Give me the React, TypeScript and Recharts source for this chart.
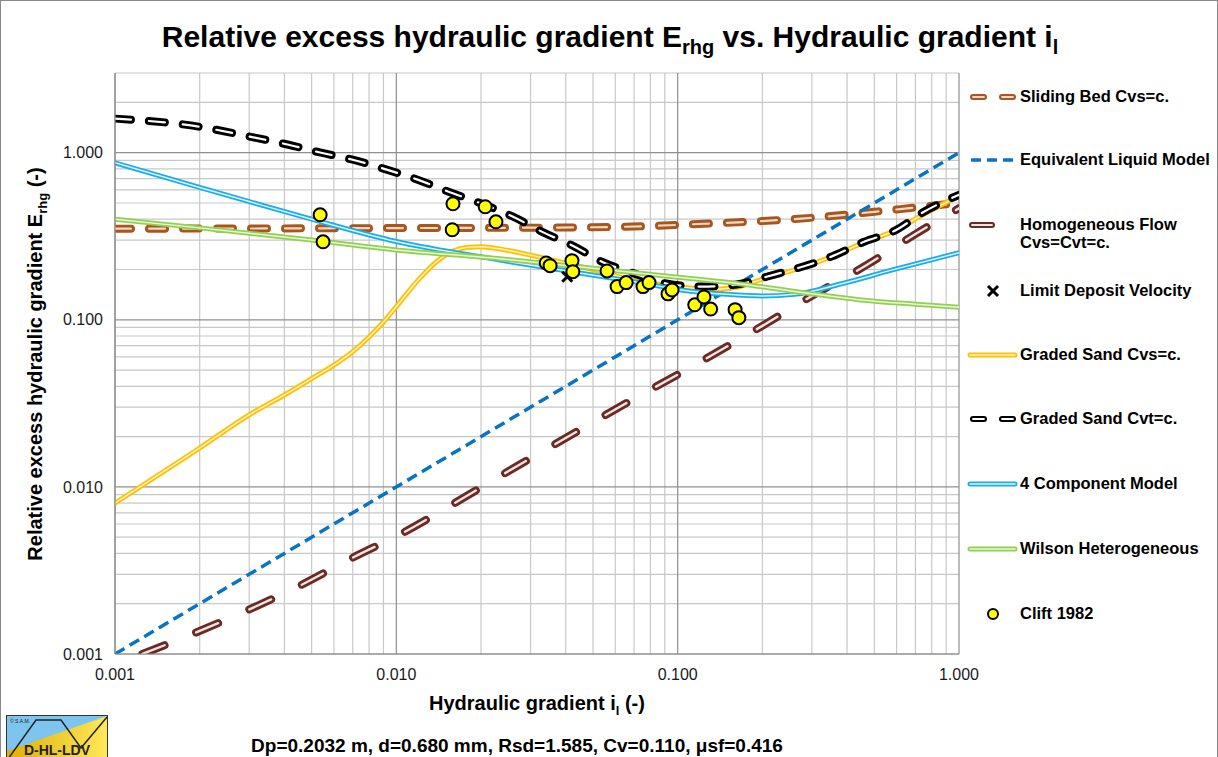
import React from 'react';
import { ComposedChart, Line, Scatter, XAxis, YAxis, ReferenceLine } from 'recharts';

const xTicks = [0.001, 0.01, 0.1, 1];
const yTicks = [0.001, 0.01, 0.1, 1];
const xMinor = [0.002, 0.003, 0.004, 0.005, 0.006, 0.007, 0.008, 0.009, 0.02, 0.03, 0.04, 0.05, 0.06, 0.07, 0.08, 0.09, 0.2, 0.3, 0.4, 0.5, 0.6, 0.7, 0.8, 0.9];
const yMinor = [0.002, 0.003, 0.004, 0.005, 0.006, 0.007, 0.008, 0.009, 0.02, 0.03, 0.04, 0.05, 0.06, 0.07, 0.08, 0.09, 0.2, 0.3, 0.4, 0.5, 0.6, 0.7, 0.8, 0.9, 2, 3];

const slidingBed = [
  { x: 0.001, y: 0.351 }, { x: 0.003, y: 0.352 }, { x: 0.01, y: 0.354 }, { x: 0.03, y: 0.356 },
  { x: 0.05, y: 0.358 }, { x: 0.08, y: 0.364 }, { x: 0.1, y: 0.37 }, { x: 0.2, y: 0.39 },
  { x: 0.3, y: 0.408 }, { x: 0.5, y: 0.443 }, { x: 0.7, y: 0.47 }, { x: 1, y: 0.5 },
];
const equivalentLiquid = [{ x: 0.001, y: 0.001 }, { x: 1, y: 1 }];
const homogeneous = [
  { x: 0.00125, y: 0.001 }, { x: 0.00189, y: 0.00132 }, { x: 0.00292, y: 0.00181 }, { x: 0.00451, y: 0.00255 },
  { x: 0.00697, y: 0.00376 }, { x: 0.0107, y: 0.00538 }, { x: 0.0163, y: 0.0081 }, { x: 0.025, y: 0.0124 },
  { x: 0.04, y: 0.0196 }, { x: 0.063, y: 0.0305 }, { x: 0.1, y: 0.047 }, { x: 0.2, y: 0.092 },
  { x: 0.3, y: 0.139 }, { x: 0.47, y: 0.213 }, { x: 0.7, y: 0.326 }, { x: 1, y: 0.465 },
];
const ldv = [{ x: 0.0405, y: 0.181 }];
const gradedCvs = [
  { x: 0.001, y: 0.008 }, { x: 0.002, y: 0.0171 }, { x: 0.003, y: 0.027 }, { x: 0.004, y: 0.0355 },
  { x: 0.005, y: 0.0445 }, { x: 0.006, y: 0.0535 }, { x: 0.007, y: 0.0645 }, { x: 0.008, y: 0.079 },
  { x: 0.009, y: 0.097 }, { x: 0.01, y: 0.12 }, { x: 0.012, y: 0.174 }, { x: 0.014, y: 0.225 },
  { x: 0.016, y: 0.259 }, { x: 0.018, y: 0.272 }, { x: 0.02, y: 0.274 }, { x: 0.025, y: 0.26 },
  { x: 0.033, y: 0.235 }, { x: 0.05, y: 0.2 }, { x: 0.07, y: 0.172 }, { x: 0.1, y: 0.158 },
  { x: 0.13, y: 0.152 }, { x: 0.16, y: 0.156 }, { x: 0.2, y: 0.175 }, { x: 0.3, y: 0.215 },
  { x: 0.46, y: 0.29 }, { x: 0.6, y: 0.346 }, { x: 0.75, y: 0.43 }, { x: 1, y: 0.55 },
];
const gradedCvt = [
  { x: 0.001, y: 1.6 }, { x: 0.002, y: 1.43 }, { x: 0.003, y: 1.25 }, { x: 0.0041, y: 1.12 },
  { x: 0.0054, y: 1.0 }, { x: 0.007, y: 0.908 }, { x: 0.0093, y: 0.79 }, { x: 0.0119, y: 0.69 },
  { x: 0.0155, y: 0.58 }, { x: 0.0198, y: 0.5 }, { x: 0.026, y: 0.414 }, { x: 0.033, y: 0.336 },
  { x: 0.043, y: 0.274 }, { x: 0.054, y: 0.222 }, { x: 0.069, y: 0.191 }, { x: 0.091, y: 0.165 },
  { x: 0.12, y: 0.158 }, { x: 0.16, y: 0.162 }, { x: 0.207, y: 0.181 }, { x: 0.35, y: 0.238 },
  { x: 0.46, y: 0.293 }, { x: 0.6, y: 0.346 }, { x: 0.74, y: 0.437 }, { x: 1, y: 0.56 },
];
const fourComponent = [
  { x: 0.001, y: 0.87 }, { x: 0.002, y: 0.62 }, { x: 0.003, y: 0.51 }, { x: 0.005, y: 0.4 },
  { x: 0.01, y: 0.294 }, { x: 0.0233, y: 0.228 }, { x: 0.049, y: 0.186 }, { x: 0.073, y: 0.167 },
  { x: 0.1, y: 0.152 }, { x: 0.15, y: 0.142 }, { x: 0.2, y: 0.139 }, { x: 0.26, y: 0.142 },
  { x: 0.386, y: 0.165 }, { x: 0.58, y: 0.199 }, { x: 1, y: 0.252 },
];
const wilson = [
  { x: 0.001, y: 0.4 }, { x: 0.002, y: 0.355 }, { x: 0.005, y: 0.3 }, { x: 0.01, y: 0.262 },
  { x: 0.0233, y: 0.232 }, { x: 0.049, y: 0.204 }, { x: 0.1, y: 0.18 }, { x: 0.167, y: 0.164 },
  { x: 0.3, y: 0.143 }, { x: 0.44, y: 0.132 }, { x: 0.7, y: 0.124 }, { x: 1, y: 0.119 },
];
const clift = [
  { x: 0.00536, y: 0.425 }, { x: 0.00549, y: 0.293 }, { x: 0.0159, y: 0.495 }, { x: 0.0158, y: 0.346 },
  { x: 0.0207, y: 0.475 }, { x: 0.0226, y: 0.386 }, { x: 0.0341, y: 0.219 }, { x: 0.0352, y: 0.211 },
  { x: 0.0421, y: 0.226 }, { x: 0.0424, y: 0.194 }, { x: 0.0561, y: 0.196 }, { x: 0.0609, y: 0.158 },
  { x: 0.0656, y: 0.167 }, { x: 0.0753, y: 0.158 }, { x: 0.0791, y: 0.167 }, { x: 0.0924, y: 0.143 },
  { x: 0.0955, y: 0.151 }, { x: 0.115, y: 0.123 }, { x: 0.124, y: 0.137 }, { x: 0.131, y: 0.116 },
  { x: 0.16, y: 0.115 }, { x: 0.165, y: 0.103 },
];

const FONT = 'Arial, "Liberation Sans", sans-serif';

// excel-like double line: wide coloured stroke with a thin light stripe on top
const doubleLine = (key: string, data: any[], color: string, inner: string, w: number, iw: number, dash?: string, type: any = 'monotone') => [
  <Line key={key + '-o'} data={data} dataKey="y" type={type} stroke={color} strokeWidth={w} strokeDasharray={dash}
    strokeLinecap="round" dot={false} activeDot={false} isAnimationActive={false} />,
  <Line key={key + '-i'} data={data} dataKey="y" type={type} stroke={inner} strokeWidth={iw} strokeDasharray={dash}
    strokeLinecap="round" dot={false} activeDot={false} isAnimationActive={false} />,
];

const CliftDot = (props: any) => (
  <circle cx={props.cx} cy={props.cy} r={6.5} fill="#FFFF00" stroke="#000" strokeWidth={2} />
);
const CrossMark = (props: any) => (
  <g stroke="#000" strokeWidth={3}>
    <line x1={props.cx - 5} y1={props.cy - 5} x2={props.cx + 5} y2={props.cy + 5} />
    <line x1={props.cx - 5} y1={props.cy + 5} x2={props.cx + 5} y2={props.cy - 5} />
  </g>
);

const legendItems = [
  { label: 'Sliding Bed Cvs=c.', top: 96, kind: 'slide' },
  { label: 'Equivalent Liquid Model', top: 159, kind: 'elm' },
  { label: 'Homogeneous Flow\nCvs=Cvt=c.', top: 224, kind: 'homo' },
  { label: 'Limit Deposit Velocity', top: 290, kind: 'ldv' },
  { label: 'Graded Sand Cvs=c.', top: 354, kind: 'cvs' },
  { label: 'Graded Sand Cvt=c.', top: 418, kind: 'cvt' },
  { label: '4 Component Model', top: 483, kind: 'four' },
  { label: 'Wilson Heterogeneous', top: 548, kind: 'wilson' },
  { label: 'Clift 1982', top: 613, kind: 'clift' },
];

const Sample = ({ kind }: { kind: string }) => {
  const solid = (c: string, ic: string) => (
    <g><line x1={3} y1={10} x2={48} y2={10} stroke={c} strokeWidth={5} strokeLinecap="round" />
      <line x1={3} y1={10} x2={48} y2={10} stroke={ic} strokeWidth={1.5} strokeLinecap="round" /></g>
  );
  const dashed = (c: string, ic: string) => (
    <g><line x1={6} y1={10} x2={47} y2={10} stroke={c} strokeWidth={6} strokeDasharray="11 18" strokeLinecap="round" />
      <line x1={6} y1={10} x2={47} y2={10} stroke={ic} strokeWidth={1.8} strokeDasharray="11 18" strokeLinecap="round" /></g>
  );
  let g: any = null;
  if (kind === 'slide') g = dashed('#A9561E', '#F2DAC6');
  if (kind === 'cvt') g = dashed('#000', '#fff');
  if (kind === 'elm') g = <line x1={4} y1={10} x2={48} y2={10} stroke="#0A74C4" strokeWidth={3.5} strokeDasharray="10 6" />;
  if (kind === 'homo') g = (<g><line x1={5} y1={10} x2={25} y2={10} stroke="#6B2B24" strokeWidth={6} strokeLinecap="round" />
    <line x1={5} y1={10} x2={25} y2={10} stroke="#F2E4E2" strokeWidth={1.8} strokeLinecap="round" /></g>);
  if (kind === 'cvs') g = solid('#FFC000', '#FFF3C4');
  if (kind === 'four') g = solid('#1AADE8', '#DDF3FF');
  if (kind === 'wilson') g = solid('#92D050', '#EAF6DE');
  if (kind === 'ldv') g = (<g stroke="#000" strokeWidth={3}><line x1={21} y1={5} x2={31} y2={15} /><line x1={21} y1={15} x2={31} y2={5} /></g>);
  if (kind === 'clift') g = <circle cx={26} cy={10} r={5} fill="#FFFF00" stroke="#000" strokeWidth={2} />;
  return <svg width={52} height={20} style={{ position: 'absolute', left: 0, top: -10 }}>{g}</svg>;
};

export default function App() {
  return (
    <div style={{ position: 'absolute', left: 0, top: 0, width: 1218, height: 757, background: '#fff', boxSizing: 'border-box',
      borderTop: '1px solid #8a8a8a', borderLeft: '1px solid #8a8a8a', borderRight: '1px solid #8a8a8a', fontFamily: FONT, overflow: 'hidden' }}>
      <div style={{ position: 'absolute', left: -1, top: -1 }}>
        <ComposedChart width={1218} height={757} margin={{ top: 73, right: 259, bottom: 73, left: 15 }}>
          <XAxis dataKey="x" type="number" scale="log" domain={[0.001, 1]} allowDataOverflow ticks={xTicks}
            tickFormatter={(v: number) => v.toFixed(3)} tickLine={false} tickSize={0} tickMargin={15} height={30}
            axisLine={{ stroke: '#8f8f8f', strokeWidth: 1.2 }} tick={{ fontSize: 16, fill: '#1a1a1a', fontFamily: FONT }} />
          <YAxis dataKey="y" type="number" scale="log" domain={[0.001, 3]} allowDataOverflow ticks={yTicks}
            tickFormatter={(v: number) => v.toFixed(3)} tickLine={false} tickSize={0} tickMargin={12} width={100}
            axisLine={{ stroke: '#8f8f8f', strokeWidth: 1.2 }} tick={{ fontSize: 16, fill: '#1a1a1a', fontFamily: FONT }} />
          {xMinor.map((v) => <ReferenceLine key={'xm' + v} x={v} stroke="#c8c8c8" strokeWidth={1.2} zIndex={-100} />)}
          {yMinor.map((v) => <ReferenceLine key={'ym' + v} y={v} stroke="#c8c8c8" strokeWidth={1.2} zIndex={-100} />)}
          {xTicks.map((v) => <ReferenceLine key={'xM' + v} x={v} stroke="#8f8f8f" strokeWidth={1.2} zIndex={-90} />)}
          {yTicks.map((v) => <ReferenceLine key={'yM' + v} y={v} stroke="#8f8f8f" strokeWidth={1.2} zIndex={-90} />)}
          {doubleLine('slide', slidingBed, '#A9561E', '#F2DAC6', 8, 2.2, '16 18')}
          <Line data={equivalentLiquid} dataKey="y" type="linear" stroke="#0A74C4" strokeWidth={3.5} strokeDasharray="11 6"
            dot={false} activeDot={false} isAnimationActive={false} />
          {doubleLine('homo', homogeneous, '#6B2B24', '#F2E4E2', 8, 2.4, '24 34')}
          <Scatter data={ldv} dataKey="y" shape={CrossMark} isAnimationActive={false} />
          {doubleLine('cvs', gradedCvs, '#FFC000', '#FFF3C4', 5, 1.5)}
          {doubleLine('cvt', gradedCvt, '#000000', '#FFFFFF', 8, 2.2, '16 18')}
          {doubleLine('four', fourComponent, '#1AADE8', '#DDF3FF', 5, 1.5)}
          {doubleLine('wilson', wilson, '#92D050', '#EAF6DE', 5, 1.5)}
          <Scatter data={clift} dataKey="y" shape={CliftDot} isAnimationActive={false} />
        </ComposedChart>
      </div>
      <svg width={1218} height={757} style={{ position: 'absolute', left: -1, top: -1, pointerEvents: 'none' }} fontFamily={FONT} fontWeight="bold" fill="#000">
        <text x={610} y={47} fontSize={30} textAnchor="middle">
          Relative excess hydraulic gradient E<tspan fontSize={20} dy={7}>rhg</tspan><tspan dy={-7}> vs. Hydraulic gradient i</tspan><tspan fontSize={20} dy={7}>l</tspan>
        </text>
        <text transform="translate(42,364) rotate(-90)" fontSize={20} textAnchor="middle">
          Relative excess hydraulic gradient E<tspan fontSize={13} dy={5}>rhg</tspan><tspan dy={-5}> (-)</tspan>
        </text>
        <text x={537} y={710} fontSize={20} textAnchor="middle">
          Hydraulic gradient i<tspan fontSize={13} dy={5}>l</tspan><tspan dy={-5}> (-)</tspan>
        </text>
        <text x={517} y={752} fontSize={19} textAnchor="middle">Dp=0.2032 m, d=0.680 mm, Rsd=1.585, Cv=0.110, μsf=0.416</text>
      </svg>
      {legendItems.map((it) => (
        <div key={it.kind} style={{ position: 'absolute', left: 966, top: it.top, height: 0 }}>
          <Sample kind={it.kind} />
          <div style={{ position: 'absolute', left: 53, top: -10, fontWeight: 'bold', fontSize: 16.5, whiteSpace: 'pre', lineHeight: '18px' }}>{it.label}</div>
        </div>
      ))}
      <svg width={102} height={44} style={{ position: 'absolute', left: 5, top: 714 }}>
        <defs>
          <linearGradient id="lg" x1="0" x2="1" y1="0" y2="0">
            <stop offset="0" stopColor="#E0B000" />
            <stop offset="1" stopColor="#FFE85A" />
          </linearGradient>
        </defs>
        <rect x={0.5} y={0.5} width={101} height={43} fill="#7DC4EE" stroke="#333" />
        <polygon points="1,36 101,1 101,43 1,43" fill="url(#lg)" />
        <polyline points="2,44 30,5 55,5 75,33 101,2" fill="none" stroke="#222" strokeWidth={1.5} />
        <text x={4} y={8} fontSize={5} fill="#222" fontFamily={FONT}>© S.A.M.</text>
        <text x={51} y={40} fontSize={14} fontWeight="bold" fill="#222" textAnchor="middle" fontFamily={FONT}>D-HL-LDV</text>
      </svg>
    </div>
  );
}
